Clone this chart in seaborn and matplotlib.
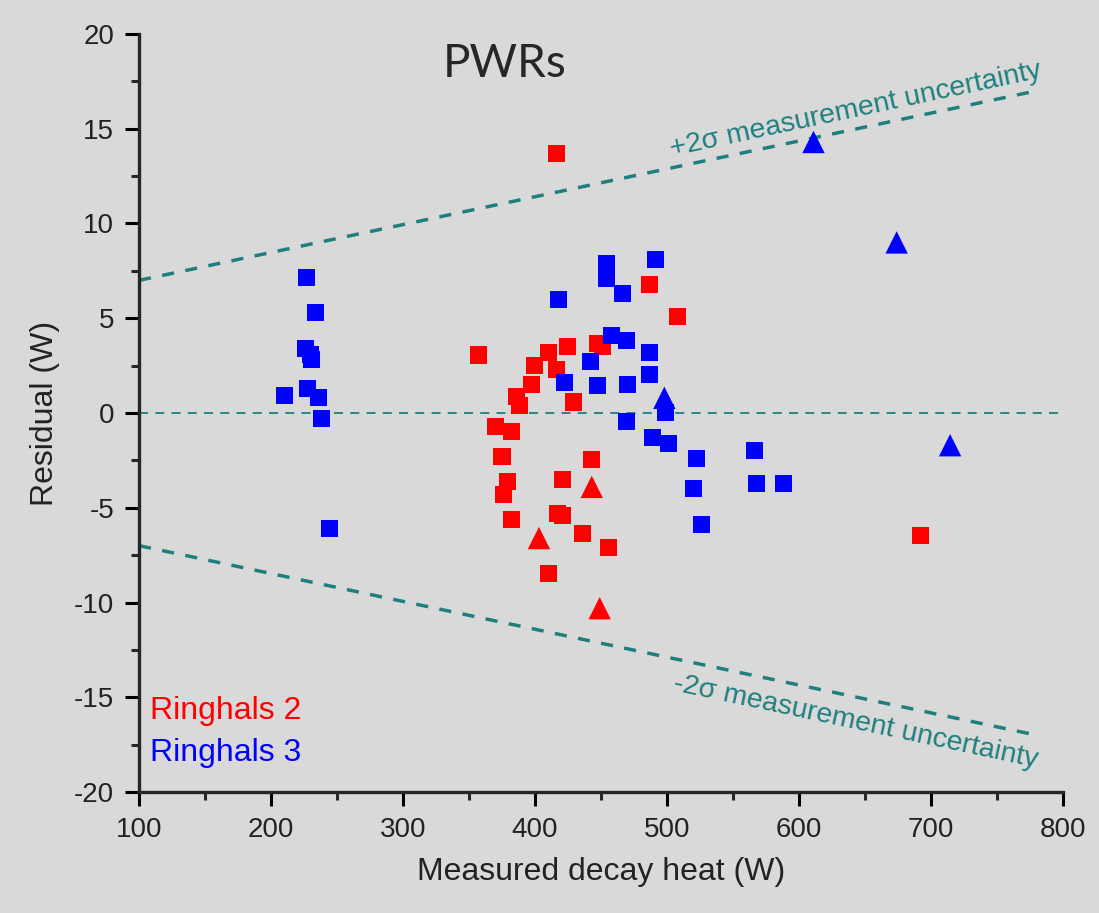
import numpy as np
import pandas as pd
import seaborn as sns
import matplotlib.pyplot as plt
from matplotlib.ticker import MultipleLocator

### Data
r2_sq_heat = [357, 410, 425, 400, 416, 397, 386, 388, 429, 370, 382, 447, 451, 487, 508,
              416, 375, 379, 376, 382, 421, 443, 417, 421, 436, 456, 410, 692]
r2_sq_res = [3.06, 3.2, 3.5, 2.5, 2.3, 1.5, 0.86, 0.42, 0.58, -0.7, -1.0, 3.65, 3.5, 6.8, 5.1,
             13.7, -2.3, -3.6, -4.3, -5.6, -3.5, -2.45, -5.3, -5.4, -6.35, -7.1, -8.45, -6.45]
r2_tri_heat = [443, 403, 449]
r2_tri_res = [-3.9, -6.6, -10.3]

r3_sq_heat = [227, 234, 226, 230, 231, 210.5, 228, 236, 238, 244,
              454, 454, 491, 466, 418, 458, 469, 442, 487, 487, 422, 447, 470, 499,
              469, 489, 501, 522, 520, 526, 566, 568, 588]
r3_sq_res = [7.13, 5.28, 3.38, 3.1, 2.8, 0.9, 1.27, 0.8, -0.28, -6.07,
             7.9, 7.1, 8.1, 6.3, 6.0, 4.1, 3.8, 2.7, 3.2, 2.05, 1.6, 1.45, 1.5, 0.05,
             -0.45, -1.27, -1.6, -2.4, -4.0, -5.9, -2.0, -3.7, -3.7]
r3_tri_heat = [498, 611, 674, 714.5]
r3_tri_res = [0.8, 14.3, 9.0, -1.7]

band_x = [100, 780]
band_upper = [7, 17]
band_lower = [-7, -17]

### Build long table for seaborn
frames = []
for heat, res, reactor, kind in [(r2_sq_heat, r2_sq_res, 'Ringhals 2', 'sq'),
                                 (r2_tri_heat, r2_tri_res, 'Ringhals 2', 'tri'),
                                 (r3_sq_heat, r3_sq_res, 'Ringhals 3', 'sq'),
                                 (r3_tri_heat, r3_tri_res, 'Ringhals 3', 'tri')]:
    frames.append(pd.DataFrame({'heat': heat, 'res': res, 'reactor': reactor, 'kind': kind}))
df = pd.concat(frames, ignore_index=True)

bg = '#d9d9d9'
teal = '#1f7f7f'
sns.set_style('ticks', {'axes.facecolor': bg, 'figure.facecolor': bg})
plt.rcParams['font.family'] = ['Liberation Sans', 'DejaVu Sans']
plt.rcParams['axes.unicode_minus'] = False

fig = plt.figure(figsize=(10.99, 9.13), dpi=100)
ax = fig.add_axes([0.1265, 0.1325, 0.8407, 0.8303])
ax.set_facecolor(bg)

### uncertainty band + zero line
ax.plot(band_x, band_upper, color=teal, lw=2.5, dashes=(3.5, 3.3))
ax.plot(band_x, band_lower, color=teal, lw=2.5, dashes=(3.5, 3.3))
ax.axhline(0, color=teal, lw=1.3, dashes=(5, 4))

sns.scatterplot(data=df, x='heat', y='res', hue='reactor', style='kind', size='kind',
                palette={'Ringhals 2': '#ff0000', 'Ringhals 3': '#0000ff'},
                markers={'sq': 's', 'tri': '^'}, sizes={'sq': 150, 'tri': 260},
                linewidth=0, legend=False, ax=ax, zorder=5)

ax.set_xlim(100, 800)
ax.set_ylim(-20, 20)
ax.xaxis.set_major_locator(MultipleLocator(100))
ax.xaxis.set_minor_locator(MultipleLocator(50))
ax.yaxis.set_major_locator(MultipleLocator(5))
ax.yaxis.set_minor_locator(MultipleLocator(2.5))
ax.tick_params(which='major', direction='out', length=10, width=2.2, labelsize=20,
               colors='black', labelcolor='#222222', pad=8)
ax.tick_params(which='minor', direction='out', length=6, width=2.2)
for side in ['left', 'bottom']:
    ax.spines[side].set_linewidth(2.4)
sns.despine(ax=ax)

ax.set_xlabel('Measured decay heat (W)', fontsize=23, color='#222222', labelpad=10)
ax.set_ylabel('Residual (W)', fontsize=23, color='#222222', labelpad=10)

ax.text(377, 18.4, 'PWRs', fontsize=33, family=['Lato', 'DejaVu Sans'],
        ha='center', va='center')
ax.text(643, 16.0, '+2σ measurement uncertainty', fontsize=20.5, color=teal,
        rotation=12, ha='center', va='center', rotation_mode='anchor')
ax.text(643, -16.3, '-2σ measurement uncertainty', fontsize=20.5, color=teal,
        rotation=-12, ha='center', va='center', rotation_mode='anchor')
ax.text(108, -15.75, 'Ringhals 2', fontsize=23, color='#ff0000', va='center')
ax.text(108, -17.95, 'Ringhals 3', fontsize=23, color='#0000ff', va='center')

fig.savefig('out.png', dpi=100, facecolor=bg)
